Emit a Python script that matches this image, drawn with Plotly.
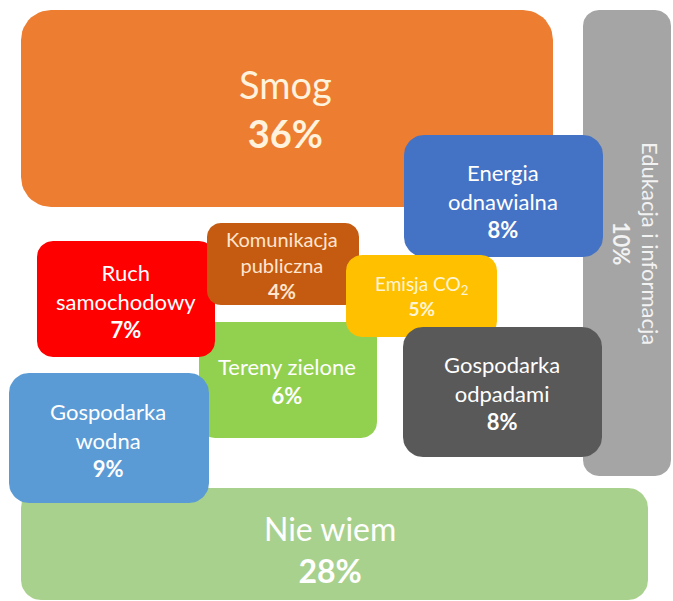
import numpy as np
import plotly.graph_objects as go

# ---- data ----
categories = ["Edukacja i informacja", "Smog", "Energia odnawialna", "Nie wiem",
              "Tereny zielone", "Ruch samochodowy", "Komunikacja publiczna",
              "Emisja CO<sub>2</sub>", "Gospodarka odpadami", "Gospodarka wodna"]
label_lines = [["Edukacja i informacja"], ["Smog"], ["Energia", "odnawialna"], ["Nie wiem"],
               ["Tereny zielone"], ["Ruch", "samochodowy"], ["Komunikacja", "publiczna"],
               ["Emisja CO<sub>2</sub>"], ["Gospodarka", "odpadami"], ["Gospodarka", "wodna"]]
values = [10, 36, 8, 28, 6, 7, 4, 5, 8, 9]

# ---- layout / style (pixel geometry of the infographic) ----
boxes = [  # x0, y0, x1, y1, corner radius
    (583, 10, 671, 476, 16),
    (21, 10, 553, 207, 30),
    (404, 135, 603, 257, 20),
    (21, 488, 648, 600, 20),
    (199, 322, 377, 438, 16),
    (37, 241, 215, 357, 16),
    (207, 223, 359, 305, 14),
    (346, 255, 497, 337, 16),
    (403, 327, 602, 457, 20),
    (9, 373, 209, 503, 20),
]
colors = ["#A5A5A5", "#ED7D31", "#4472C4", "#A9D18E", "#92D050", "#FF0000",
          "#C55A11", "#FFC000", "#595959", "#5B9BD5"]
text_pos = [(636, 243), (285, 108), (503, 201), (330, 549), (287, 381), (126, 301),
            (282, 265), (421, 296), (502, 393), (108, 440)]
font_sizes = [22, 38, 22, 32, 22, 22, 20, 19, 22, 22]
text_colors = ["#F2F2F2", "#FFF3DD", "white", "white", "white", "white",
               "#FFE6CF", "#FFF5D6", "white", "white"]
angles = [90, 0, 0, 0, 0, 0, 0, 0, 0, 0]

W, H = 673, 601


def rounded_rect(x0, y0, x1, y1, r, n=12):
    xs, ys = [], []
    corners = [(x1 - r, y0 + r, -90, 0), (x1 - r, y1 - r, 0, 90),
               (x0 + r, y1 - r, 90, 180), (x0 + r, y0 + r, 180, 270)]
    for cx, cy, a0, a1 in corners:
        t = np.radians(np.linspace(a0, a1, n))
        xs.extend(cx + r * np.cos(t))
        ys.extend(cy + r * np.sin(t))
    xs.append(xs[0]); ys.append(ys[0])
    return xs, ys


fig = go.Figure()
for cat, (x0, y0, x1, y1, r), col in zip(categories, boxes, colors):
    xs, ys = rounded_rect(x0, y0, x1, y1, r)
    fig.add_trace(go.Scatter(x=xs, y=ys, mode="lines", fill="toself",
                             fillcolor=col, line=dict(width=0, color=col),
                             hoverinfo="skip", name=cat, showlegend=False))

for lines, v, (tx, ty), fs, tc, ang in zip(label_lines, values, text_pos,
                                           font_sizes, text_colors, angles):
    txt = "<br>".join(lines) + f"<br><b>{v}%</b>"
    fig.add_annotation(x=tx, y=ty, text=txt, showarrow=False, textangle=ang,
                       font=dict(family="Lato, Open Sans, sans-serif", size=fs, color=tc),
                       xanchor="center", yanchor="middle", align="center")

fig.update_layout(
    width=W, height=H,
    margin=dict(l=0, r=0, t=0, b=0),
    paper_bgcolor="white", plot_bgcolor="white",
    xaxis=dict(range=[0, W], visible=False, fixedrange=True),
    yaxis=dict(range=[H, 0], visible=False, fixedrange=True),
)
fig.write_html("out.html",
               config={"displayModeBar": False, "staticPlot": True},
               post_script="document.body.style.margin='0';"
                           "document.body.style.overflow='hidden';")
